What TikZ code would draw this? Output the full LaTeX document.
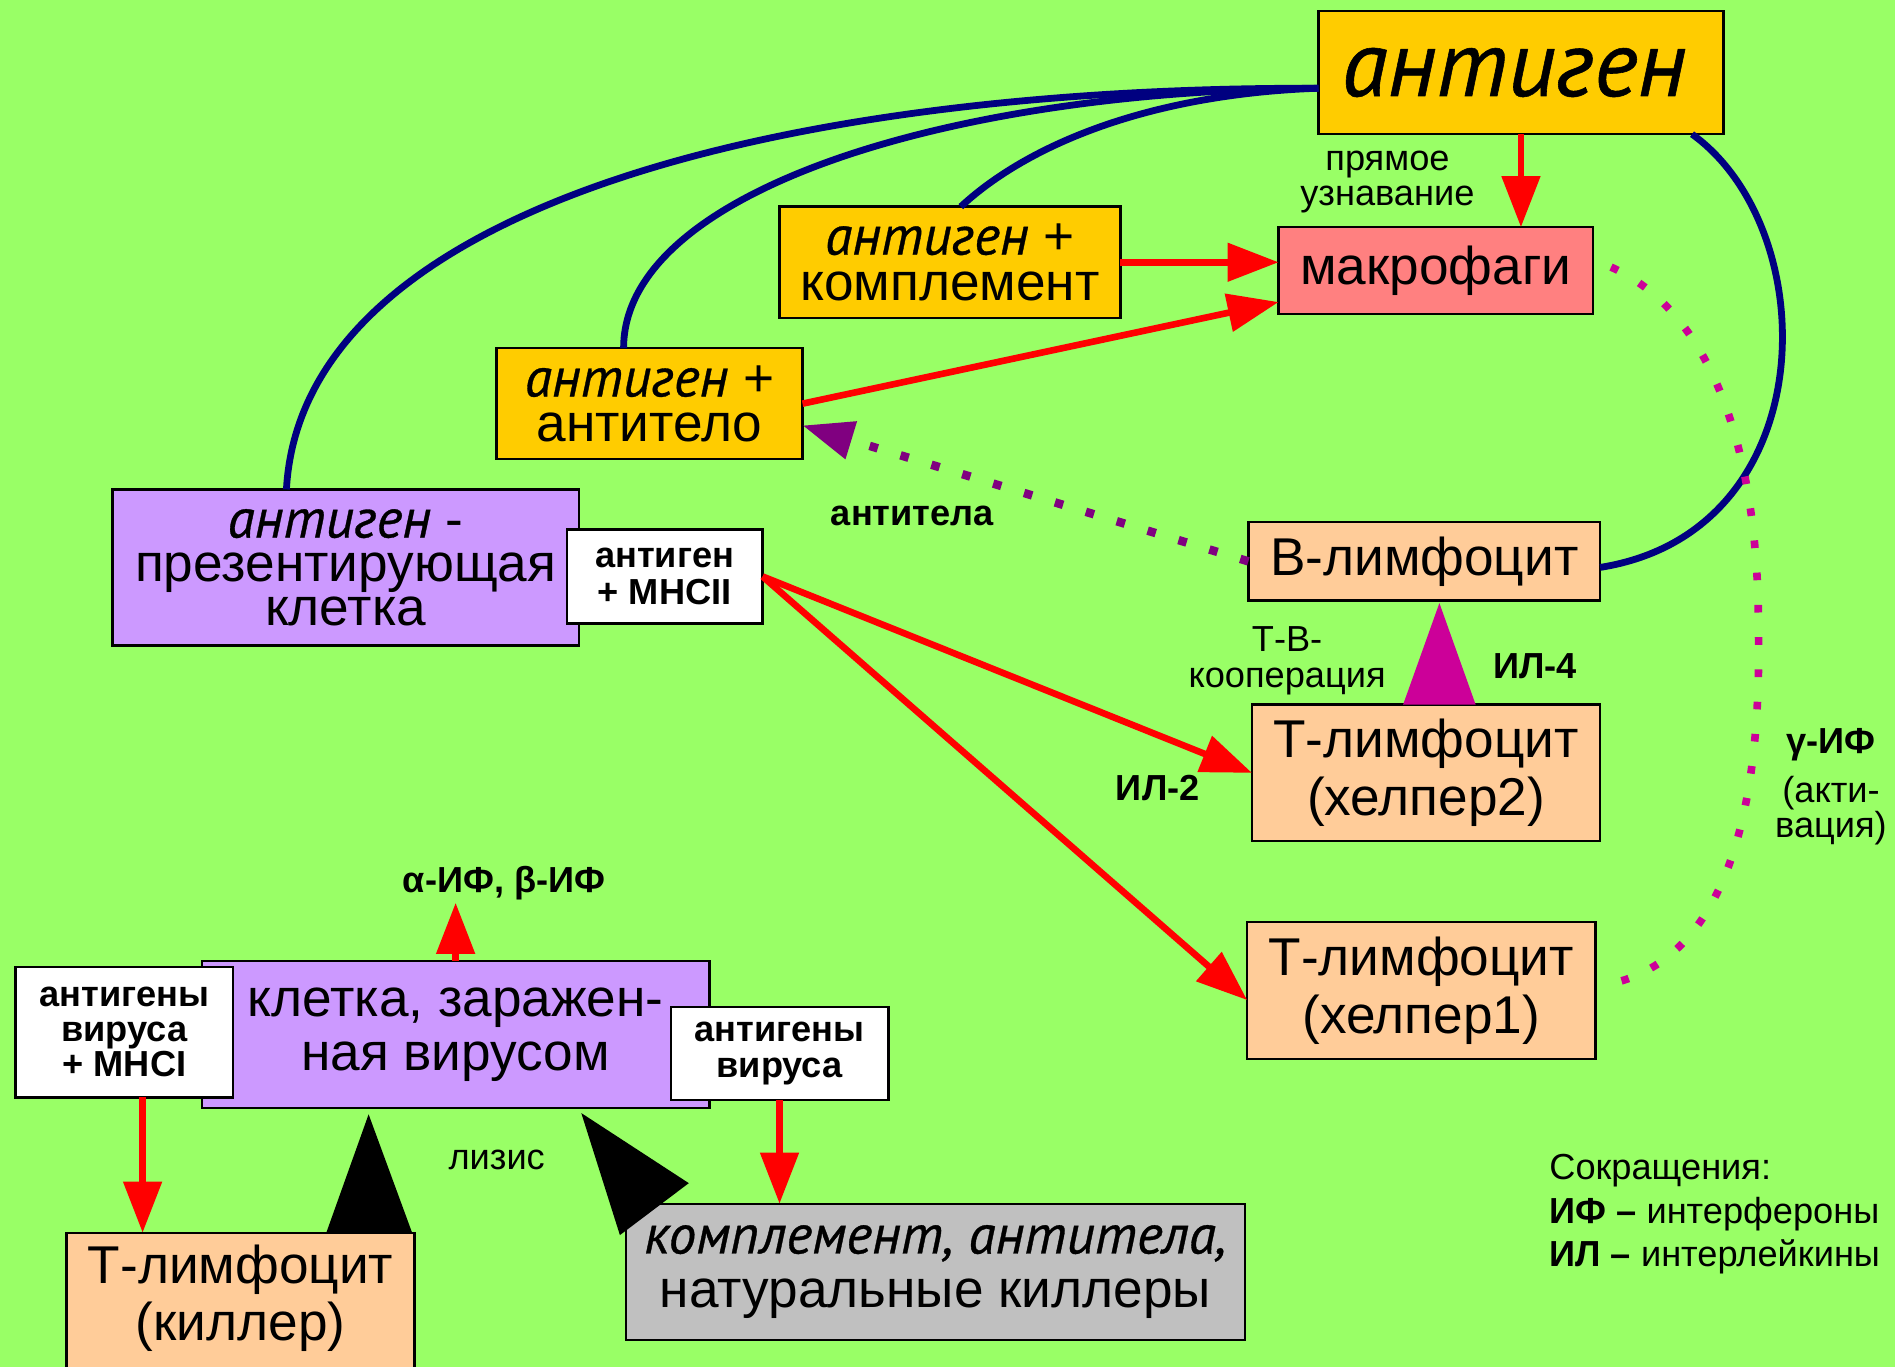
\documentclass[tikz,border=0pt]{standalone}
\usepackage{fontspec}
\setmainfont{Liberation Sans}[ItalicFont={PT Sans Italic}, ItalicFeatures={Scale=1.04, FakeBold=0.6}]
\usetikzlibrary{arrows.meta,calc}
\definecolor{bg}{HTML}{99FF66}
\definecolor{gold}{HTML}{FFCC00}
\definecolor{rose}{HTML}{FF8080}
\definecolor{lilac}{HTML}{CC99FF}
\definecolor{peach}{HTML}{FFCC99}
\definecolor{ash}{HTML}{C0C0C0}
\definecolor{navyline}{HTML}{000080}
\definecolor{plum}{HTML}{800080}
\definecolor{magent}{HTML}{CC0099}
\begin{document}
\begin{tikzpicture}[x=0.025cm,y=-0.025cm,
  box/.style={draw=black, line width=1.4pt, inner sep=0pt, outer sep=0pt, align=center, text=black},
  sz/.style 2 args={minimum width=#1*0.7113pt, minimum height=#2*0.7113pt},
  fmain/.style={font=\fontsize{31.3}{#1}\selectfont},
  fsmall/.style={font=\fontsize{21.3}{#1}\selectfont},
  fbold/.style={font=\fontsize{21.3}{#1}\selectfont\bfseries},
  fsmall/.default=21.3, fbold/.default=21.3, fmain/.default=34,
  label text/.style={inner sep=0pt, outer sep=0pt, align=center},
  redarrow/.style={draw=red, line width=3.9pt, -{Triangle[length=30pt,width=22pt]}},
  bluecurve/.style={draw=navyline, line width=4pt},
  pdot/.style={draw=plum, line width=5pt, dash pattern=on 5pt off 14pt, -{Triangle[length=30pt,width=22pt]}},
  mdot/.style={draw=magent, line width=4.5pt, dash pattern=on 4.5pt off 14.5pt},
]
% background and frame
\fill[bg] (0,0) rectangle (1568,1131);
\clip (0,0) rectangle (1568,1131);

% boxes
\node[box, fill=gold, sz={335}{102}] (ag) at (1258.5,60) {\fontsize{53}{58}\selectfont\itshape антиген\hspace*{8pt}};
\node[box, fill=rose, sz={260}{72}, fmain] (mac) at (1188,224) {макрофаги};
\node[box, fill=gold, sz={282}{92}, fmain=26.8] (comp) at (786,217) {\textit{антиген} +\\комплемент};
\node[box, fill=gold, sz={253}{92}, fmain=26.3] (atl) at (537.5,334) {\textit{антиген} +\\антитело};
\node[box, fill=lilac, sz={386}{129}, fmain=25.8] (apc) at (286,469.5) {\textit{антиген} -\\презентирующая\\клетка};
\node[box, fill=white, sz={162}{78}, fbold] (mhc2) at (550,477) {антиген\\+ MHCII};
\node[box, fill=peach, sz={291}{65}, fmain] (blym) at (1178.5,464.5) {В-лимфоцит};
\node[box, fill=peach, sz={288}{113}, fmain] (th2) at (1180,639.5) {Т-лимфоцит\\(хелпер2)};
\node[box, fill=peach, sz={288}{113}, fmain] (th1) at (1176,819.5) {Т-лимфоцит\\(хелпер1)};
\node[box, fill=lilac, sz={420}{122}, fmain=32] (cell) at (377,856) {клетка, заражен-\\ная вирусом};
\node[box, fill=white, sz={180}{108}, fbold=20.6] (mhc1) at (103,854) {антигены\\вируса\\+ MHCI};
\node[box, fill=white, sz={180}{77}, fbold] (av) at (645,871.5) {антигены\\вируса};
\node[box, fill=peach, sz={288}{140}] (kil) at (199,1090) {};
\node[label text, fmain=33.4] (kiltxt) at (199,1074.5) {Т-лимфоцит\\(киллер)};
\node[box, fill=ash, sz={512}{113}, fmain=32] (gray) at (774,1052.5) {\textit{комплемент, антитела,}\\натуральные киллеры};

% antigen links
\draw[bluecurve] ($(ag.west)+(0,13)$) .. controls (650,72) and (250,170) .. ($(apc.north)+(-49,0)$);
\draw[bluecurve] ($(ag.west)+(0,13)$) .. controls (780,75) and (516,160) .. ($(atl.north)+(-21.5,0)$);
\draw[bluecurve] ($(ag.west)+(0,13)$) .. controls (950,78) and (850,120) .. ($(comp.north)+(9,0)$);
\draw[bluecurve] ($(ag.south east)+(-26,0)$) .. controls (1510,190) and (1510,440) .. ($(blym.east)+(0,5)$);

% dotted signals
\draw[pdot] (blym.west) -- ($(atl.east)+(0,18)$);
\draw[mdot] ($(mac.east)+(15,-3)$) .. controls (1420,260) and (1455,380) .. (1455,520)
  .. controls (1458,690) and (1420,800) .. ($(th1.east)+(5,-4)$);

% red arrows
\coordinate (ifabtip) at ($(cell.north)+(0,-48)$);
\coordinate (mhc1out) at ($(mhc1.south)+(15,0)$);
\draw[redarrow] (ag.south) -- (ag.south |- mac.north);
\draw[redarrow] (comp.east) -- (comp.east -| mac.west);
\draw[redarrow] (atl.east) -- ($(mac.west)!0.72!(mac.south west)$);
\draw[redarrow] (mhc2.east) -- (th2.west);
\draw[redarrow] (mhc2.east) -- ($(th1.west)+(0,8)$);
\draw[redarrow] (cell.north) -- (ifabtip);
\draw[redarrow] (mhc1out) -- (mhc1out |- kil.north);
\draw[redarrow] (av.south) -- (av.south |- gray.north);

% cooperation and lysis wedges
\fill[magent] ($(th2.north)+(-19,0)$) -- ($(th2.north)+(41,0)$) -- ($(blym.south)+(12.5,2)$) -- cycle;
\fill[black] ($(kil.north)+(71,0)$) -- ($(kil.north)+(142,0)$) -- ($(cell.south)+(-72,5)$) -- cycle;
\fill[black] ($(cell.south)+(104,4)$) -- ($(gray.north west)+(52,-17)$) -- ($(gray.north west)+(-5,26)$) -- cycle;

% labels
\node[label text, fsmall=20.6] (direct) at (1148,151) {прямое\\узнавание};
\node[label text, fbold] (abl) at (755,427) {антитела};
\node[label text, fsmall] (tbc) at (1065,547) {Т-В-\\кооперация};
\node[label text, fbold] (il4) at (1270,551) {ИЛ-4};
\node[label text, fbold] (il2) at (958,652) {ИЛ-2};
\node[label text, fsmall=20.6] (gif) at (1515,651) {\textbf{γ-ИФ}\\[7.8pt](акти-\\вация)};
\node[label text, fbold] (ifab) at (417,731) {α-ИФ, β-ИФ};
\node[label text, fsmall] (lys) at (411,960) {лизис};
\node[label text, fsmall=25.6, align=left, anchor=west] (legend) at (1282,1005) {Сокращения:\\\textbf{ИФ –} интерфероны\\\textbf{ИЛ –} интерлейкины};
\end{tikzpicture}
\end{document}
